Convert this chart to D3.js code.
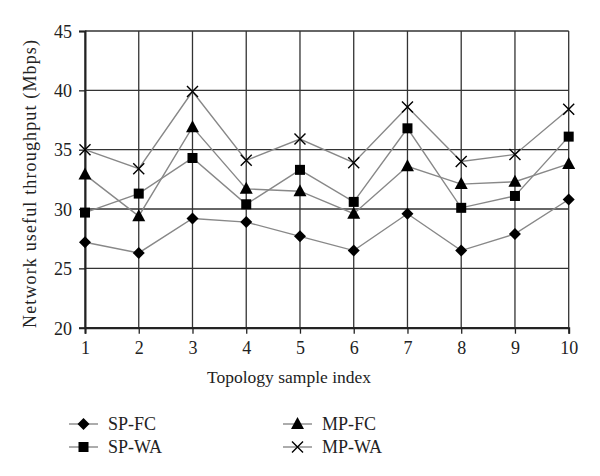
<!DOCTYPE html>
<html><head><meta charset="utf-8">
<script src="https://cdn.jsdelivr.net/npm/d3@7/dist/d3.min.js"></script>
<style>body{margin:0;background:#fff}svg{display:block}text{font-family:"Liberation Serif","DejaVu Serif",serif;fill:#222}</style>
</head><body>
<svg id="c" width="600" height="476"></svg>
<script>
const xValues = [1,2,3,4,5,6,7,8,9,10];
const yTicks = [20,25,30,35,40,45];
const seriesNames = ["SP-FC","SP-WA","MP-FC","MP-WA"];
const spFC = [27.2,26.3,29.2,28.9,27.7,26.5,29.6,26.5,27.9,30.8];
const spWA = [29.7,31.3,34.3,30.4,33.3,30.6,36.8,30.1,31.1,36.1];
const mpFC = [32.9,29.4,36.9,31.7,31.5,29.6,33.6,32.1,32.3,33.8];
const mpWA = [35.0,33.4,39.9,34.1,35.9,33.9,38.6,34.0,34.6,38.4];
const seriesValues = [spFC, spWA, mpFC, mpWA];
const markers = ["diamond","square","triangle","cross"];

const svg = d3.select("#c");
const m = {l:85, t:31, r:600-568.7, b:476-327.7};
const W = 600-m.l-m.r, H = 476-m.t-m.b;
const g = svg.append("g").attr("transform",`translate(${m.l},${m.t})`);
const x = d3.scaleLinear().domain([1,10]).range([0,W]);
const y = d3.scaleLinear().domain([20,45]).range([H,0]);

// grid
g.selectAll(".hg").data(yTicks).join("line").attr("x1",0).attr("x2",W)
 .attr("y1",d=>y(d)).attr("y2",d=>y(d)).attr("stroke","#333").attr("stroke-width",1.3);
g.selectAll(".vg").data(xValues).join("line").attr("y1",0).attr("y2",H)
 .attr("x1",d=>x(d)).attr("x2",d=>x(d)).attr("stroke","#333").attr("stroke-width",1.3);

// axes
const xa = g.append("g").attr("transform",`translate(0,${H})`)
 .call(d3.axisBottom(x).tickValues(xValues).tickFormat(d3.format("d")).tickSize(6).tickPadding(8));
const ya = g.append("g").call(d3.axisLeft(y).tickValues(yTicks).tickSize(6).tickPadding(7));
[xa,ya].forEach(a=>{a.select(".domain").attr("stroke","#222").attr("stroke-width",2);
 a.selectAll(".tick line").attr("stroke","#222").attr("stroke-width",1.3);
 a.selectAll("text").style("font-family",'"Liberation Serif",serif').style("font-size","18px").attr("fill","#222");});
ya.selectAll("text").attr("dy","0.35em");

// series
const line = d3.line().x((d,i)=>x(xValues[i])).y(d=>y(d));
function drawMarker(sel, type, cx, cy){
  if(type==="diamond") sel.append("path").attr("d",`M${cx},${cy-6}L${cx+6},${cy}L${cx},${cy+6}L${cx-6},${cy}Z`).attr("fill","#000");
  else if(type==="square") sel.append("rect").attr("x",cx-5).attr("y",cy-5).attr("width",10).attr("height",10).attr("fill","#000");
  else if(type==="triangle") sel.append("path").attr("d",`M${cx},${cy-7}L${cx+6.5},${cy+5}L${cx-6.5},${cy+5}Z`).attr("fill","#000");
  else sel.append("path").attr("d",`M${cx-5.5},${cy-5.5}L${cx+5.5},${cy+5.5}M${cx-5.5},${cy+5.5}L${cx+5.5},${cy-5.5}`).attr("stroke","#000").attr("stroke-width",1.4).attr("fill","none");
}
seriesValues.forEach((vals,si)=>{
  g.append("path").datum(vals).attr("d",line).attr("fill","none").attr("stroke","#888").attr("stroke-width",1.4);
});
seriesValues.forEach((vals,si)=>{
  const mg = g.append("g");
  vals.forEach((v,i)=>drawMarker(mg, markers[si], x(xValues[i]), y(v)));
});

// titles
svg.append("text").attr("x",289).attr("y",383).attr("text-anchor","middle")
 .style("font-size","17.5px").text("Topology sample index");
svg.append("text").attr("transform",`translate(36,${184}) rotate(-90)`).attr("text-anchor","middle")
 .style("font-size","18px").attr("textLength",288).attr("lengthAdjust","spacing").text("Network useful throughput (Mbps)");

// legend
const legPos = [[69,424],[69,447],[283,424],[283,447]];
seriesNames.forEach((n,i)=>{
  const [lx,ly] = legPos[i];
  const lg = svg.append("g");
  lg.append("line").attr("x1",lx).attr("x2",lx+29).attr("y1",ly).attr("y2",ly).attr("stroke","#888").attr("stroke-width",1.4);
  drawMarker(lg, markers[i], lx+14.5, ly);
  lg.append("text").attr("x",lx+39).attr("y",ly).attr("dy","0.35em").style("font-size","18px").text(n);
});
</script>
</body></html>
